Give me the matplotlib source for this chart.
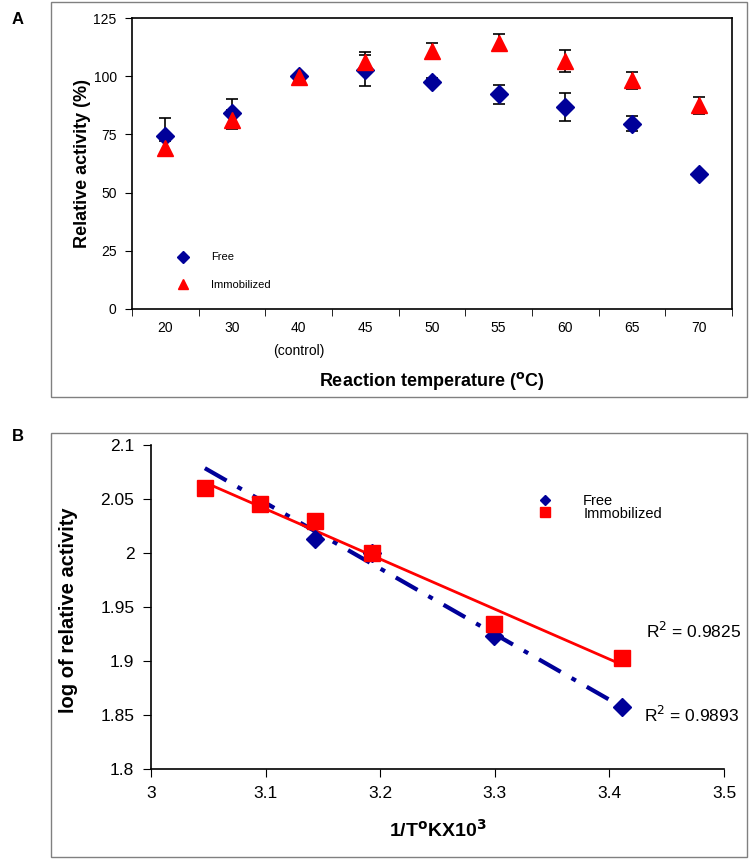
import numpy as np
import matplotlib
matplotlib.use('Agg')
import matplotlib.pyplot as plt
from matplotlib.patches import Rectangle

plt.rcParams['font.family'] = ['Liberation Sans', 'DejaVu Sans']

# Panel A: relative activity vs reaction temperature
temps = ['20', '30', '40\n(control)', '45', '50', '55', '60', '65', '70']
free_act = [74.2, 84.0, 100.2, 102.5, 97.7, 92.2, 86.8, 79.6, 58.0]
free_err = [8.0, 6.0, 0.0, 6.5, 1.5, 4.0, 6.0, 3.3, 1.0]
imm_act = [69.0, 81.3, 99.6, 106.2, 110.8, 114.4, 106.5, 98.2, 87.5]
imm_err = [3.0, 4.0, 0.0, 4.0, 3.3, 3.6, 4.8, 3.6, 3.6]

# Panel B: Arrhenius plot
free_invT = [3.143, 3.193, 3.299, 3.411]
free_log = [2.013, 2.000, 1.923, 1.857]
imm_invT = [3.047, 3.095, 3.143, 3.193, 3.299, 3.411]
imm_log = [2.060, 2.045, 2.030, 2.000, 1.934, 1.903]
r2_labels = ['R$^2$ = 0.9825', 'R$^2$ = 0.9893']

navy = '#000099'
red = '#FF0000'

fig = plt.figure(figsize=(7.54, 8.60), dpi=100)

# outer gray frames
for (x0, y0, w, h) in [(51, 2, 696, 395), (51, 433, 696, 424)]:
    fig.patches.append(Rectangle((x0 / 754, 1 - (y0 + h) / 860), w / 754, h / 860,
                                 transform=fig.transFigure, fill=False,
                                 edgecolor='#808080', lw=1.0))

# ---- panel A ----
axA = fig.add_axes([132 / 754, 1 - 309 / 860, 600 / 754, 291 / 860])
xs = np.arange(len(temps))
axA.errorbar(xs, free_act, yerr=free_err, fmt='none', ecolor='black',
             elinewidth=1.2, capsize=4, capthick=1.2, zorder=2)
axA.errorbar(xs, imm_act, yerr=imm_err, fmt='none', ecolor='black',
             elinewidth=1.2, capsize=4, capthick=1.2, zorder=2)
axA.plot(xs, free_act, 'D', color=navy, ms=9, ls='none', label='Free', zorder=3)
axA.plot(xs, imm_act, '^', color=red, ms=11, ls='none', label='Immobilized', zorder=4)

axA.set_xlim(-0.5, len(temps) - 0.5)
axA.set_ylim(0, 125)
axA.set_yticks(np.arange(0, 126, 25))
axA.set_xticks(xs)
axA.set_xticklabels(temps, fontsize=10, linespacing=1.8)
axA.set_xticks(np.arange(-0.5, len(temps), 1), minor=True)
axA.tick_params(axis='x', which='major', length=0, pad=9)
axA.tick_params(axis='x', which='minor', length=5, direction='out')
axA.tick_params(axis='y', length=5, direction='out', labelsize=10, pad=6)
for s in axA.spines.values():
    s.set_linewidth(1.2)

axA.set_ylabel('Relative activity (%)', fontsize=13, fontweight='bold')
axA.yaxis.set_label_coords(-0.068, 0.5)
axA.set_xlabel('Reaction temperature ($^{\\mathbf{o}}$C)', fontsize=13, fontweight='bold')
axA.xaxis.set_label_coords(0.5, -0.21)

axA.legend(loc='lower left', bbox_to_anchor=(0.05, 0.03), frameon=False,
           fontsize=8, markerscale=0.7, labelspacing=1.6, handletextpad=1.5)

fig.text(12 / 754, 1 - 20 / 860, 'A', fontsize=12, fontweight='bold', va='center')

# ---- panel B ----
axB = fig.add_axes([151 / 754, 1 - 769 / 860, 573 / 754, 324 / 860])
fx = np.array(free_invT)
ix = np.array(imm_invT)
pf = np.polyfit(fx, free_log, 1)
pi = np.polyfit(ix, imm_log, 1)
xl_free = np.array([ix.min(), fx.max()])
xl_imm = np.array([ix.min(), ix.max()])
axB.plot(xl_free, np.polyval(pf, xl_free), color=navy, lw=3,
         ls=(0, (6, 3, 1.2, 3)), zorder=2)
axB.plot(xl_imm, np.polyval(pi, xl_imm), color=red, lw=2, zorder=2)
axB.plot(fx, free_log, 'D', color=navy, ms=9, ls='none', label='Free', zorder=3)
axB.plot(ix, imm_log, 's', color=red, ms=11, ls='none', label='Immobilized', zorder=4)

axB.set_xlim(3.0, 3.5)
axB.set_ylim(1.8, 2.1)
axB.set_xticks(np.arange(3.0, 3.51, 0.1))
axB.set_xticklabels(['3', '3.1', '3.2', '3.3', '3.4', '3.5'])
axB.set_yticks(np.arange(1.8, 2.101, 0.05))
axB.set_yticklabels(['1.8', '1.85', '1.9', '1.95', '2', '2.05', '2.1'])
axB.tick_params(length=6, direction='out', labelsize=12.5, pad=6)
axB.spines['top'].set_visible(False)
axB.spines['right'].set_visible(False)
for s in ['left', 'bottom']:
    axB.spines[s].set_linewidth(1.2)

axB.set_ylabel('log of relative activity', fontsize=14.5, fontweight='bold')
axB.yaxis.set_label_coords(-0.128, 0.49)
axB.set_xlabel('1/T$^{\\mathbf{o}}$KX10$^{\\mathbf{3}}$', fontsize=14, fontweight='bold')
axB.xaxis.set_label_coords(0.5, -0.155)

axB.legend(loc='upper left', bbox_to_anchor=(0.65, 0.872), frameon=False,
           fontsize=10.5, markerscale=0.6, labelspacing=-0.08, handletextpad=1.6,
           borderpad=0)

fig.text(646 / 754, 1 - 631 / 860, r2_labels[0], fontsize=12.5, va='center')
fig.text(644 / 754, 1 - 715 / 860, r2_labels[1], fontsize=12.5, va='center')

fig.text(12 / 754, 1 - 436 / 860, 'B', fontsize=12, fontweight='bold', va='center')

fig.savefig('out.png', dpi=100)
